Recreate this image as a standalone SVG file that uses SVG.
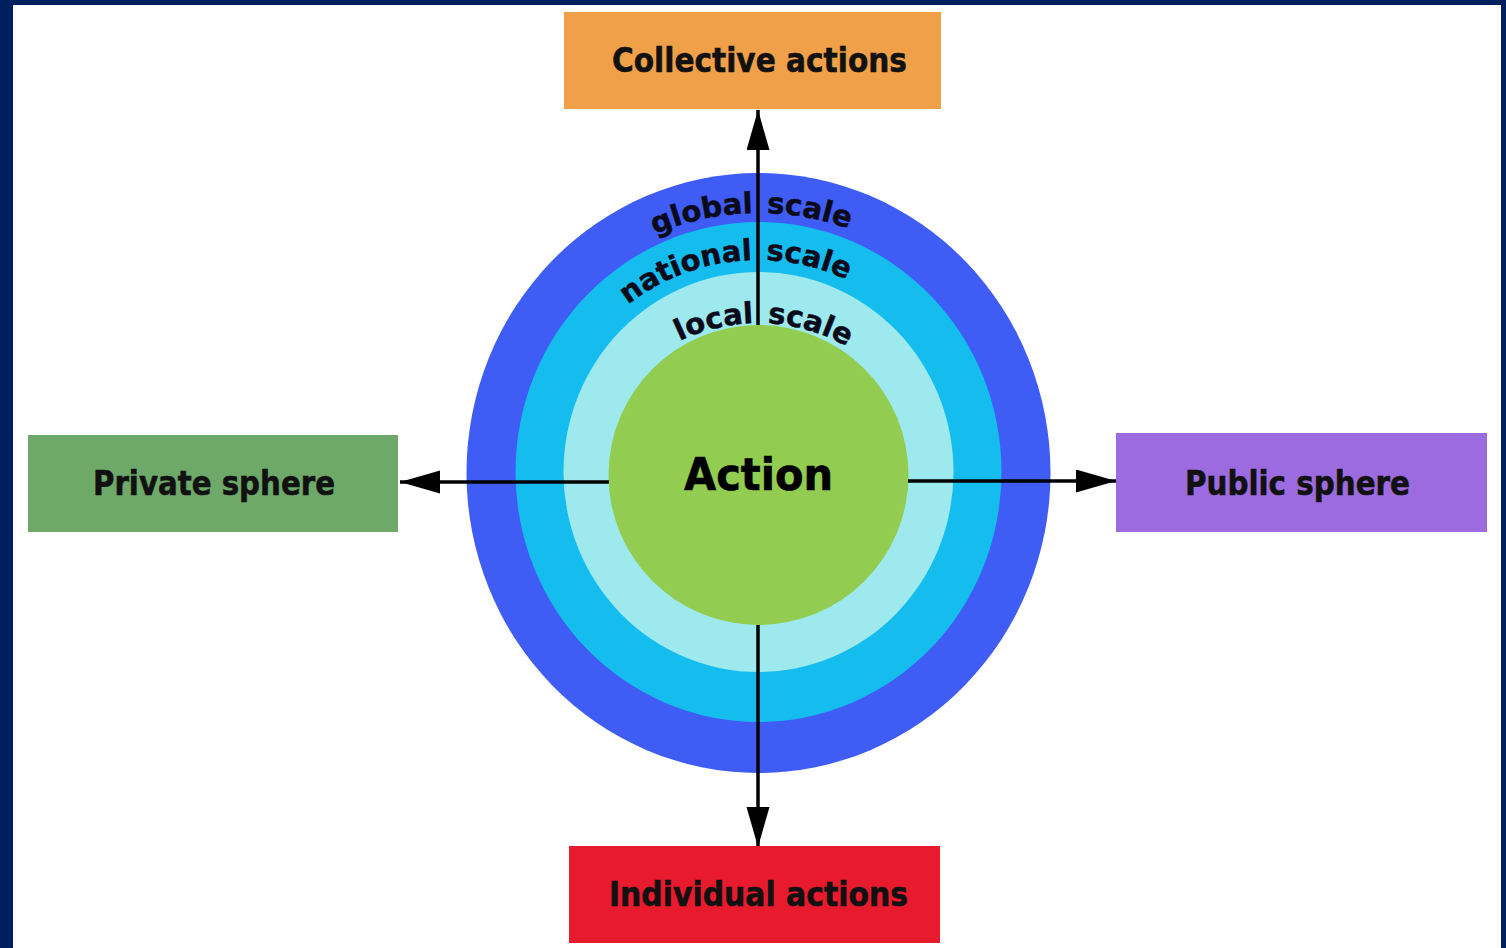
<svg xmlns="http://www.w3.org/2000/svg" width="1506" height="948" viewBox="0 0 1506 948">
<defs>
<style>
.box-label{font-family:"DejaVu Sans","Liberation Sans",sans-serif;font-weight:bold;font-size:34px;fill:#111;stroke:#111;stroke-width:0.6;text-anchor:middle}
.ring-label{font-family:"DejaVu Sans","Liberation Sans",sans-serif;font-weight:bold;font-size:29px;fill:#0a0a1a;stroke:#0a0a1a;stroke-width:0.5}
.conn{stroke:#000;stroke-width:3.5;fill:none;marker-end:url(#arrow)}
</style>
<marker id="arrow" markerUnits="userSpaceOnUse" markerWidth="42" markerHeight="24" refX="40" refY="11.5" orient="auto">
<path d="M0,0 L40,11.5 L0,23 Z" fill="#000"/>
</marker>
<path id="arcGlobal" d="M494,478 A265,265 0 0 1 1024,478"/>
<path id="arcNational" d="M546,472 A212,212 0 0 1 970,472"/>
<path id="arcLocal" d="M578,503 A180,180 0 0 1 938,503"/>
</defs>
<rect x="0" y="0" width="1506" height="948" fill="#001f5f"/>
<rect x="13" y="5" width="1488" height="943" fill="#ffffff"/>

<g id="rings">
<ellipse cx="758.5" cy="473" rx="292" ry="300" fill="#3f5cf4"/>
<ellipse cx="758.5" cy="472" rx="243" ry="250" fill="#15bdee"/>
<ellipse cx="758.5" cy="472" rx="195" ry="200" fill="#9de9ee"/>
<text class="ring-label"><textPath href="#arcGlobal" startOffset="410" text-anchor="end">global</textPath></text>
<text class="ring-label"><textPath href="#arcGlobal" startOffset="424">scale</textPath></text>
<text class="ring-label"><textPath href="#arcNational" startOffset="327" text-anchor="end">national</textPath></text>
<text class="ring-label"><textPath href="#arcNational" startOffset="341">scale</textPath></text>
<text class="ring-label"><textPath href="#arcLocal" startOffset="278" text-anchor="end">local</textPath></text>
<text class="ring-label"><textPath href="#arcLocal" startOffset="292">scale</textPath></text>
</g>

<g id="action">
<ellipse cx="758.5" cy="475" rx="150" ry="150" fill="#92cc50"/>
<text x="758.5" y="490" font-family="DejaVu Sans, Liberation Sans, sans-serif" font-weight="bold" font-size="44" fill="#000" stroke="#000" stroke-width="0.6" text-anchor="middle" textLength="149" lengthAdjust="spacingAndGlyphs">Action</text>
</g>

<g id="connectors">
<line class="conn" x1="758" y1="325" x2="758" y2="110"/>
<line class="conn" x1="758" y1="625" x2="758" y2="847"/>
<line class="conn" x1="609" y1="482" x2="400" y2="482"/>
<line class="conn" x1="908" y1="481" x2="1116" y2="481"/>
</g>

<g id="collective">
<rect x="564" y="12" width="377" height="97" fill="#f0a048"/>
<text class="box-label" x="759.5" y="72" textLength="295" lengthAdjust="spacingAndGlyphs">Collective actions</text>
</g>
<g id="individual">
<rect x="569" y="846" width="371" height="97" fill="#e81a2e"/>
<text class="box-label" x="758.5" y="906" textLength="299" lengthAdjust="spacingAndGlyphs">Individual actions</text>
</g>
<g id="private">
<rect x="28" y="435" width="370" height="97" fill="#6ea96a"/>
<text class="box-label" x="214" y="495" textLength="242" lengthAdjust="spacingAndGlyphs">Private sphere</text>
</g>
<g id="public">
<rect x="1116" y="433" width="371" height="99" fill="#9c6be0"/>
<text class="box-label" x="1297.5" y="495" textLength="225" lengthAdjust="spacingAndGlyphs">Public sphere</text>
</g>
</svg>
